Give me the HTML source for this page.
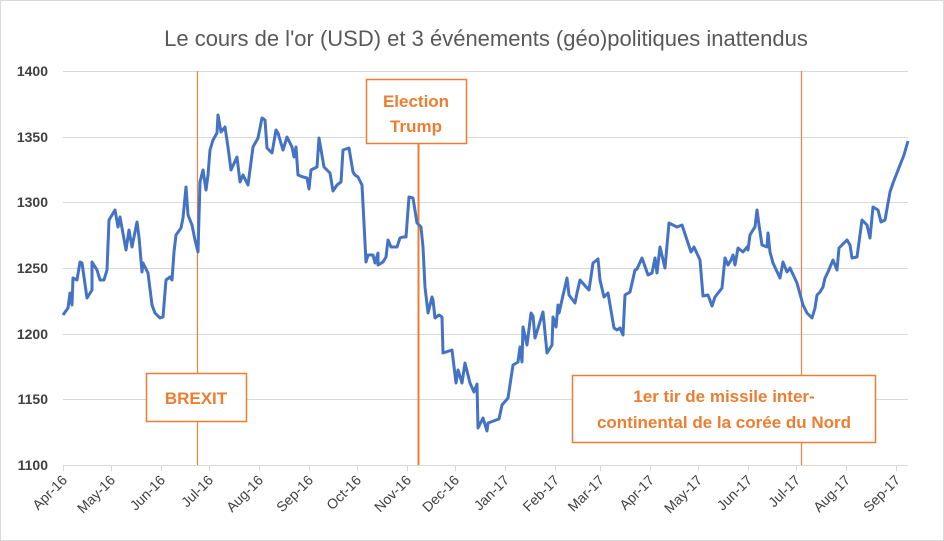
<!DOCTYPE html>
<html><head><meta charset="utf-8"><style>
body{margin:0;background:#fff;}
svg{display:block;font-family:"Liberation Sans",sans-serif;}
</style></head><body>
<svg width="944" height="541" viewBox="0 0 944 541">
<rect x="0.5" y="0.5" width="943" height="540" fill="#fff" stroke="#d9d9d9"/>
<text x="486" y="46" text-anchor="middle" font-size="22" fill="#595959">Le cours de l'or (USD) et 3 événements (géo)politiques inattendus</text>
<g stroke="#d9d9d9" stroke-width="1">
<line x1="63" x2="908" y1="71.5" y2="71.5"/>
<line x1="63" x2="908" y1="137.5" y2="137.5"/>
<line x1="63" x2="908" y1="202.5" y2="202.5"/>
<line x1="63" x2="908" y1="268.5" y2="268.5"/>
<line x1="63" x2="908" y1="334.5" y2="334.5"/>
<line x1="63" x2="908" y1="399.5" y2="399.5"/>
<line x1="63" x2="908" y1="465.5" y2="465.5"/>
</g>
<g stroke="#d9d9d9"><line x1="63.5" y1="465" x2="63.5" y2="471"/><line x1="111.5" y1="465" x2="111.5" y2="471"/><line x1="161.5" y1="465" x2="161.5" y2="471"/><line x1="209.5" y1="465" x2="209.5" y2="471"/><line x1="259.5" y1="465" x2="259.5" y2="471"/><line x1="309.5" y1="465" x2="309.5" y2="471"/><line x1="357.5" y1="465" x2="357.5" y2="471"/><line x1="407.5" y1="465" x2="407.5" y2="471"/><line x1="455.5" y1="465" x2="455.5" y2="471"/><line x1="505.5" y1="465" x2="505.5" y2="471"/><line x1="555.5" y1="465" x2="555.5" y2="471"/><line x1="600.5" y1="465" x2="600.5" y2="471"/><line x1="650.5" y1="465" x2="650.5" y2="471"/><line x1="698.5" y1="465" x2="698.5" y2="471"/><line x1="748.5" y1="465" x2="748.5" y2="471"/><line x1="796.5" y1="465" x2="796.5" y2="471"/><line x1="846.5" y1="465" x2="846.5" y2="471"/><line x1="896.5" y1="465" x2="896.5" y2="471"/></g>
<g font-size="14" font-weight="bold" fill="#404040" text-anchor="end">
<text x="48" y="76">1400</text><text x="48" y="142">1350</text><text x="48" y="207">1300</text><text x="48" y="273">1250</text><text x="48" y="339">1200</text><text x="48" y="404">1150</text><text x="48" y="470">1100</text>
</g>
<g font-size="14" fill="#404040" text-anchor="end">
<text transform="translate(68,481) rotate(-45)">Apr-16</text>
<text transform="translate(116,481) rotate(-45)">May-16</text>
<text transform="translate(166,481) rotate(-45)">Jun-16</text>
<text transform="translate(214,481) rotate(-45)">Jul-16</text>
<text transform="translate(264,481) rotate(-45)">Aug-16</text>
<text transform="translate(314,481) rotate(-45)">Sep-16</text>
<text transform="translate(362,481) rotate(-45)">Oct-16</text>
<text transform="translate(412,481) rotate(-45)">Nov-16</text>
<text transform="translate(460,481) rotate(-45)">Dec-16</text>
<text transform="translate(510,481) rotate(-45)">Jan-17</text>
<text transform="translate(560,481) rotate(-45)">Feb-17</text>
<text transform="translate(605,481) rotate(-45)">Mar-17</text>
<text transform="translate(655,481) rotate(-45)">Apr-17</text>
<text transform="translate(703,481) rotate(-45)">May-17</text>
<text transform="translate(753,481) rotate(-45)">Jun-17</text>
<text transform="translate(801,481) rotate(-45)">Jul-17</text>
<text transform="translate(851,481) rotate(-45)">Aug-17</text>
<text transform="translate(901,481) rotate(-45)">Sep-17</text>
</g>
<line x1="197.5" y1="71" x2="197.5" y2="465" stroke="#e8803f" stroke-width="1.2"/>
<line x1="418.5" y1="144" x2="418.5" y2="465" stroke="#ed7d31" stroke-width="2"/>
<line x1="801.5" y1="71" x2="801.5" y2="465" stroke="#e8803f" stroke-width="1.2"/>
<polyline fill="none" stroke="#4472c4" stroke-width="3" stroke-linejoin="round" points="63,315 68,308 70,293 72,305 73,278 77,280 80,262 82,263 87,298 92,290 92,262 97,270 100,280 104,280 107,270 109,220 115,210 118,227 120,217 126,250 129,230 132,247 137,222 139,237 142,272 143,263 148,273 152,305 155,313 160,318 163,317 166,280 170,277 172,280 174,252 176,235 181,228 183,218 186,187 188,215 192,225 195,240 198,252 200,182 203,170 206,190 208,175 210,150 213,140 217,133 218,115 221,132 225,127 228,147 231,170 237,157 240,182 243,175 248,185 253,147 258,138 262,118 265,120 267,148 272,153 276,130 278,133 283,150 287,137 292,147 294,157 296,147 298,175 303,177 307,178 309,189 311,170 317,167 319,138 324,167 330,173 333,191 337,185 341,182 343,150 349,148 353,172 355,175 358,177 362,185 366,262 368,255 373,255 375,263 378,253 378,265 383,262 386,257 388,240 391,247 397,247 400,238 403,237 406,237 409,197 413,198 417,223 421,227 423,247 425,287 428,313 432,297 433,300 435,318 439,315 442,317 443,353 452,350 456,383 458,370 462,383 465,363 470,383 474,392 477,384 478,428 483,418 487,431 488,423 499,419 502,405 508,398 513,365 518,362 520,347 522,362 523,327 527,345 531,313 533,316 535,338 543,312 547,353 552,345 553,317 556,327 558,305 559,313 567,278 569,295 575,303 577,293 580,280 587,288 589,290 593,263 598,259 600,280 604,297 608,293 614,328 617,330 620,328 623,335 625,295 630,292 635,270 637,269 642,258 648,275 652,273 655,258 657,273 660,247 665,268 669,223 677,227 682,225 688,243 691,252 694,247 700,260 703,296 708,295 712,306 715,297 722,288 725,258 728,265 731,260 733,255 735,265 738,248 743,252 747,247 748,250 750,235 753,230 755,227 757,210 759,225 762,245 767,247 768,233 770,252 773,263 780,278 783,262 787,272 790,268 797,283 803,305 807,313 812,318 815,308 817,295 820,292 823,287 825,278 828,272 833,260 837,270 839,248 847,240 850,245 852,258 857,257 862,220 867,225 870,238 873,207 878,210 881,222 885,220 890,192 893,183 895,178 900,165 904,155 908,141"/>
<g fill="#fff" stroke="#ed7d31" stroke-width="1.5">
<rect x="146.5" y="373.5" width="100" height="48"/>
<rect x="366.5" y="79.5" width="100" height="64"/>
<rect x="572.5" y="375.5" width="303" height="67"/>
</g>
<g font-size="17" font-weight="bold" fill="#ed7d31" text-anchor="middle">
<text x="196" y="404">BREXIT</text>
<text x="416" y="107">Election</text>
<text x="416" y="132">Trump</text>
<text x="724" y="402">1er tir de missile inter-</text>
<text x="724" y="428">continental de la corée du Nord</text>
</g>
</svg>
</body></html>
